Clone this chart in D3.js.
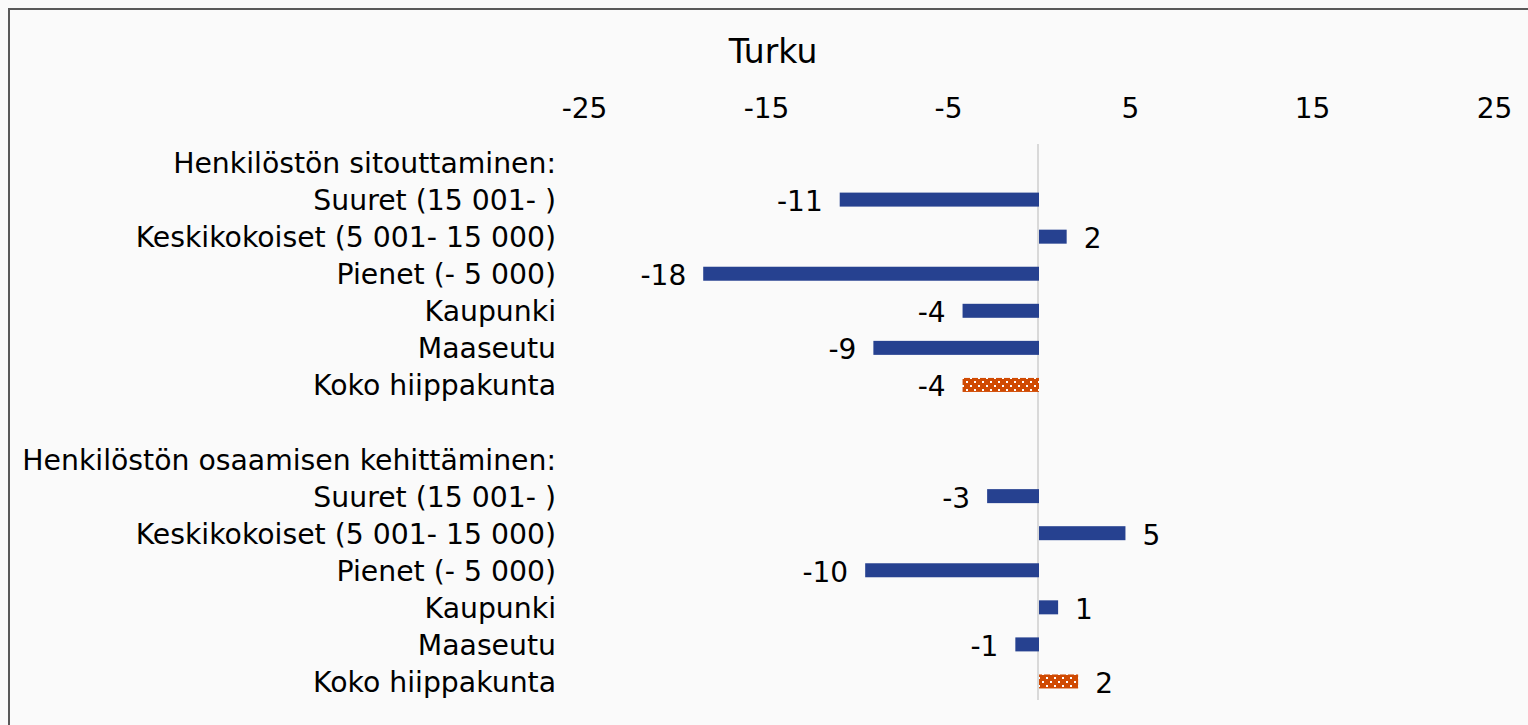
<!DOCTYPE html>
<html lang="fi">
<head>
<meta charset="UTF-8">
<title>Turku</title>
<script src="https://d3js.org/d3.v7.min.js"></script>
<style>
    body { margin: 0; background: #fafafa; overflow: hidden; }
    svg text { font-family: "DejaVu Sans", Verdana, sans-serif; fill: #000; }
    .tick-label { font-size: 28px; }
    .cat-label { font-size: 28.3px; }
    .val-label { font-size: 28px; }
    .title { font-size: 33px; }
</style>
</head>
<body>
<div id="chart"></div>
<script>
// rows from top to bottom; headers and the gap row have no value
const categories = [
    "Henkilöstön sitouttaminen:",
    "Suuret (15 001- )",
    "Keskikokoiset (5 001- 15 000)",
    "Pienet (- 5 000)",
    "Kaupunki",
    "Maaseutu",
    "Koko hiippakunta",
    "",
    "Henkilöstön osaamisen kehittäminen:",
    "Suuret (15 001- )",
    "Keskikokoiset (5 001- 15 000)",
    "Pienet (- 5 000)",
    "Kaupunki",
    "Maaseutu",
    "Koko hiippakunta"
];
const values = [null, -10.95, 1.52, -18.45, -4.2, -9.1, -4.2, null, null, -2.85, 4.75, -9.55, 1.05, -1.3, 2.15];
const totalRow = [false, false, false, false, false, false, true, false, false, false, false, false, false, false, true];
const xTicks = [-25, -15, -5, 5, 15, 25];
const title = "Turku";

const W = 1528, H = 725;
const svg = d3.select("#chart").append("svg")
    .attr("width", W)
    .attr("height", H);

// pattern for the "Koko hiippakunta" bars
const defs = svg.append("defs");
const pat = defs.append("pattern")
    .attr("id", "dots")
    .attr("patternUnits", "userSpaceOnUse")
    .attr("width", 8)
    .attr("height", 8);
pat.append("rect").attr("width", 8).attr("height", 8).attr("fill", "#d04a02");
pat.append("rect").attr("x", 2).attr("y", 1).attr("width", 2).attr("height", 2).attr("fill", "#fff");
pat.append("rect").attr("x", 6).attr("y", 5).attr("width", 2).attr("height", 2).attr("fill", "#fff");

// outer frame (runs off the right and bottom edges)
svg.append("rect")
    .attr("x", 9).attr("y", 9)
    .attr("width", W + 20).attr("height", H + 20)
    .attr("fill", "#fafafa")
    .attr("stroke", "#595959")
    .attr("stroke-width", 2);

const x = d3.scaleLinear().domain([-25, 25]).range([584, 1494]);
const y = d3.scaleBand()
    .domain(d3.range(categories.length))
    .range([144, 700]);
const rowMid = i => y(i) + y.bandwidth() / 2;

// title
svg.append("text")
    .attr("class", "title")
    .attr("x", 773).attr("y", 51)
    .attr("text-anchor", "middle")
    .attr("dominant-baseline", "central")
    .text(title);

// top axis, labels only
const axis = svg.append("g")
    .attr("transform", "translate(0,108)")
    .call(d3.axisTop(x).tickValues(xTicks).tickFormat(d => String(d)).tickSize(0).tickPadding(0));
axis.select(".domain").remove();
axis.selectAll("text")
    .attr("class", "tick-label")
    .attr("font-family", null)
    .attr("font-size", null)
    .attr("y", 0)
    .attr("dy", null)
    .attr("dominant-baseline", "central");

// zero line
svg.append("line")
    .attr("x1", x(0) - 1).attr("x2", x(0) - 1)
    .attr("y1", 144).attr("y2", 700)
    .attr("stroke", "#d9d9d9")
    .attr("stroke-width", 2);

// category labels
svg.selectAll(".cat-label")
    .data(categories)
    .enter().append("text")
    .attr("class", "cat-label")
    .attr("x", 556)
    .attr("y", (d, i) => rowMid(i) + 1)
    .attr("text-anchor", "end")
    .attr("dominant-baseline", "central")
    .text(d => d);

const rows = values.map((v, i) => ({ v, i, total: totalRow[i] })).filter(d => d.v !== null);

// bars
svg.selectAll(".bar")
    .data(rows)
    .enter().append("rect")
    .attr("class", "bar")
    .attr("x", d => x(Math.min(0, d.v)))
    .attr("width", d => Math.abs(x(d.v) - x(0)))
    .attr("y", d => rowMid(d.i) - 7)
    .attr("height", 14)
    .attr("fill", d => d.total ? "url(#dots)" : "#264190");

// value labels
const fmt = d3.format(".0f");
svg.selectAll(".val-label")
    .data(rows)
    .enter().append("text")
    .attr("class", "val-label")
    .attr("x", d => d.v < 0 ? x(d.v) - 17 : x(d.v) + 17)
    .attr("y", d => rowMid(d.i) + 2)
    .attr("text-anchor", d => d.v < 0 ? "end" : "start")
    .attr("dominant-baseline", "central")
    .text(d => fmt(d.v).replace("−", "-"));
</script>
</body>
</html>
